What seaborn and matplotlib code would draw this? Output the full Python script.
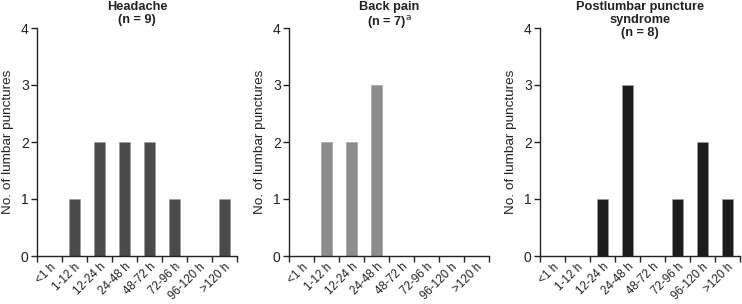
import matplotlib
matplotlib.use("Agg")
import matplotlib.pyplot as plt
import seaborn as sns
import pandas as pd
import numpy as np

categories = ["<1 h", "1-12 h", "12-24 h", "24-48 h", "48-72 h", "72-96 h", "96-120 h", ">120 h"]
headache = [0, 1, 2, 2, 2, 1, 0, 1]
back_pain = [0, 2, 2, 3, 0, 0, 0, 0]
plps = [0, 0, 1, 3, 0, 1, 2, 1]

titles = ["Headache\n(n = 9)", "Back pain\n(n = 7)$^{\\mathrm{a}}$", "Postlumbar puncture\nsyndrome\n(n = 8)"]
colors = ["#4a4a4a", "#8c8c8c", "#1c1c1c"]
series = [headache, back_pain, plps]

sns.set_style("white")
plt.rcParams['font.family'] = ['Liberation Sans', 'DejaVu Sans']

fig = plt.figure(figsize=(7.42, 3.04), dpi=100)
lefts = [37/742, 289/742, 540/742]
width = 200/742
for i, (vals, title, col) in enumerate(zip(series, titles, colors)):
    ax = fig.add_axes([lefts[i], 48/304, width, 228/304])
    df = pd.DataFrame({"cat": categories, "n": vals})
    sns.barplot(data=df, x="cat", y="n", order=categories, color=col,
                width=0.41, saturation=1, edgecolor="#9a9a9a", linewidth=0.4, ax=ax)
    ax.set_xlim(-0.5, len(categories) - 0.5)
    ax.set_ylim(0, 4)
    ax.set_yticks([0, 1, 2, 3, 4])
    ax.set_xlabel("")
    ax.set_ylabel("No. of lumbar punctures", fontsize=9.7, color="#222222", labelpad=5)
    ax.set_xticks(range(len(categories)))
    ax.set_xticklabels(categories, rotation=45, ha="right", rotation_mode="anchor", fontsize=8.4, color="#222222")
    ax.set_xticks(np.arange(-0.5, len(categories)), minor=True)
    ax.tick_params(axis="x", which="major", length=0, pad=3.5)
    ax.tick_params(axis="x", which="minor", length=4, width=1, direction="out", color="#222222", bottom=True)
    ax.tick_params(axis="y", length=4, width=1, direction="out", color="#222222", left=True, labelsize=10, labelcolor="#222222", pad=2)
    for s in ["top", "right"]:
        ax.spines[s].set_visible(False)
    for s in ["left", "bottom"]:
        ax.spines[s].set_color("#222222")
        ax.spines[s].set_linewidth(1)
    fig.text(lefts[i] + width / 2, 1 - 1/304, title, ha="center", va="top", fontsize=9.2,
             fontweight="bold", color="#222222", linespacing=1.1)

fig.savefig("out.png", dpi=100)
